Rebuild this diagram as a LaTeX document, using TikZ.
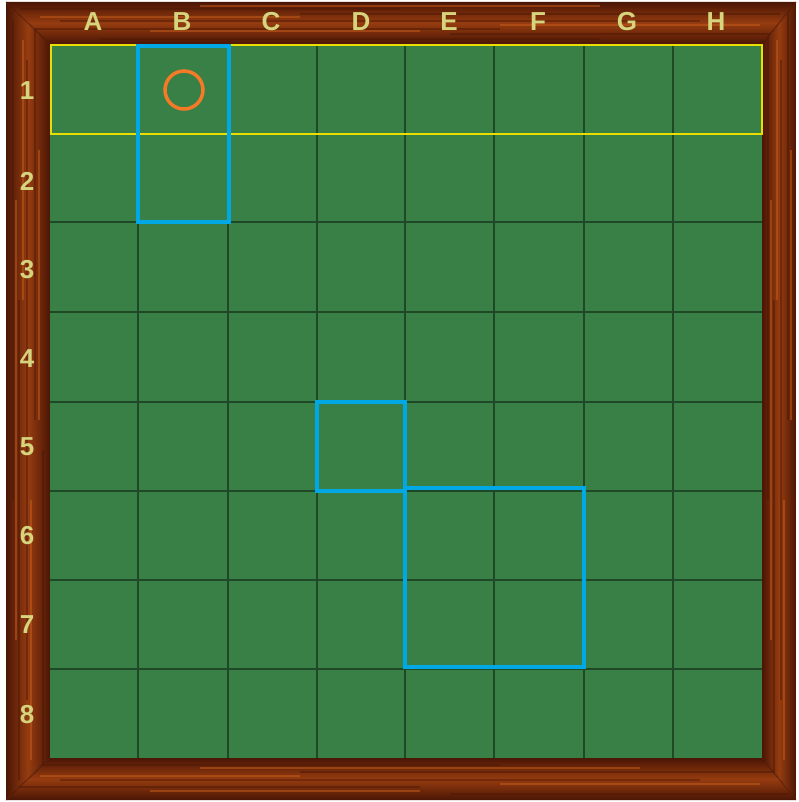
\documentclass[tikz,border=0pt]{standalone}
\usepackage{fontspec}
\setmainfont{Liberation Sans}
\definecolor{felt}{RGB}{57,128,70}
\definecolor{gridc}{RGB}{30,72,38}
\definecolor{hiblue}{RGB}{0,168,230}
\definecolor{rowyel}{RGB}{232,222,0}
\definecolor{markor}{RGB}{245,122,40}
\definecolor{labc}{RGB}{214,212,125}
\definecolor{wdark}{RGB}{75,22,5}
\definecolor{wmid}{RGB}{150,60,16}
\definecolor{wlight}{RGB}{200,95,28}
\tikzset{
  gridline/.style={gridc, line width=2pt},
  hibox/.style={draw=hiblue, line width=4pt},
  streak/.style={wdark, line width=2.5pt, opacity=0.45},
  lstreak/.style={wlight, line width=2pt, opacity=0.5},
  boardlabel/.style={text=labc, font=\fontsize{26}{26}\selectfont\bfseries, inner sep=0pt, anchor=center},
}
\begin{document}
\begin{tikzpicture}[x=1pt,y=-1pt]
\useasboundingbox (0,0) rectangle (798,802);
\fill[white] (0,0) rectangle (798,802);
% ---- wooden frame ----
\begin{scope}
\clip (6,2) -- (796,2) -- (762,44) -- (50,44) -- cycle;
\shade[top color=wdark, bottom color=wdark, middle color=wmid] (6,2) rectangle (796,44);
\foreach \yy/\xa/\xb in {9/20/400, 14/300/780, 21/60/700, 29/10/500, 34/450/790, 39/100/600}
  \draw[streak] (\xa,\yy) -- (\xb,\yy);
\foreach \yy/\xa/\xb in {6/200/600, 17/40/300, 25/500/760, 31/150/420}
  \draw[lstreak] (\xa,\yy) -- (\xb,\yy);
\end{scope}
\begin{scope}
\clip (6,800) -- (796,800) -- (762,758) -- (50,758) -- cycle;
\shade[top color=wdark, bottom color=wdark, middle color=wmid] (6,758) rectangle (796,800);
\foreach \yy/\xa/\xb in {765/30/500, 772/300/780, 780/60/700, 787/10/420, 794/450/790}
  \draw[streak] (\xa,\yy) -- (\xb,\yy);
\foreach \yy/\xa/\xb in {768/200/640, 776/40/300, 784/500/760, 791/150/420}
  \draw[lstreak] (\xa,\yy) -- (\xb,\yy);
\end{scope}
\begin{scope}
\clip (6,2) -- (50,44) -- (50,758) -- (6,800) -- cycle;
\shade[left color=wdark, right color=wdark, middle color=wmid] (6,2) rectangle (50,800);
\foreach \xx/\ya/\yb in {13/20/500, 19/300/780, 27/60/700, 35/10/420, 43/450/790}
  \draw[streak] (\xx,\ya) -- (\xx,\yb);
\foreach \xx/\ya/\yb in {16/200/640, 23/40/300, 31/500/760, 39/150/420}
  \draw[lstreak] (\xx,\ya) -- (\xx,\yb);
\end{scope}
\begin{scope}
\clip (796,2) -- (762,44) -- (762,758) -- (796,800) -- cycle;
\shade[left color=wdark, right color=wdark, middle color=wmid] (762,2) rectangle (796,800);
\foreach \xx/\ya/\yb in {768/20/500, 774/300/780, 781/60/700, 788/10/420}
  \draw[streak] (\xx,\ya) -- (\xx,\yb);
\foreach \xx/\ya/\yb in {771/200/640, 777/40/300, 784/500/760, 791/150/420}
  \draw[lstreak] (\xx,\ya) -- (\xx,\yb);
\end{scope}
\draw[wdark, line width=1pt, opacity=0.7] (6,2) -- (50,44) (796,2) -- (762,44) (6,800) -- (50,758) (796,800) -- (762,758);
% ---- board ----
\fill[felt] (50,44) rectangle (762,758);
\foreach \xx in {138,228,317,405,494,584,673}
  \draw[gridline] (\xx,44) -- (\xx,758);
\foreach \yy in {134,222,312,402,491,580,669}
  \draw[gridline] (50,\yy) -- (762,\yy);
% ---- labels ----
\foreach \l/\xx in {A/93,B/182,C/271,D/361,E/449,F/538,G/627,H/716}
  \node[boardlabel] (col\l) at (\xx,22) {\l};
\foreach \n/\yy in {1/91,2/181,3/270,4/359,5/447,6/536,7/625,8/715}
  \node[boardlabel] (row\n) at (27,\yy) {\n};
% ---- highlights ----
\draw[rowyel, line width=1.6pt] (51,45) rectangle (762,134);
\draw[hibox] (138,46) rectangle (229,222);
\draw[hibox] (317,402) rectangle (405,491);
\draw[hibox] (405,488) rectangle (584,667);
\draw[markor, line width=3.5pt] (184,90) circle (19);
\end{tikzpicture}
\end{document}
